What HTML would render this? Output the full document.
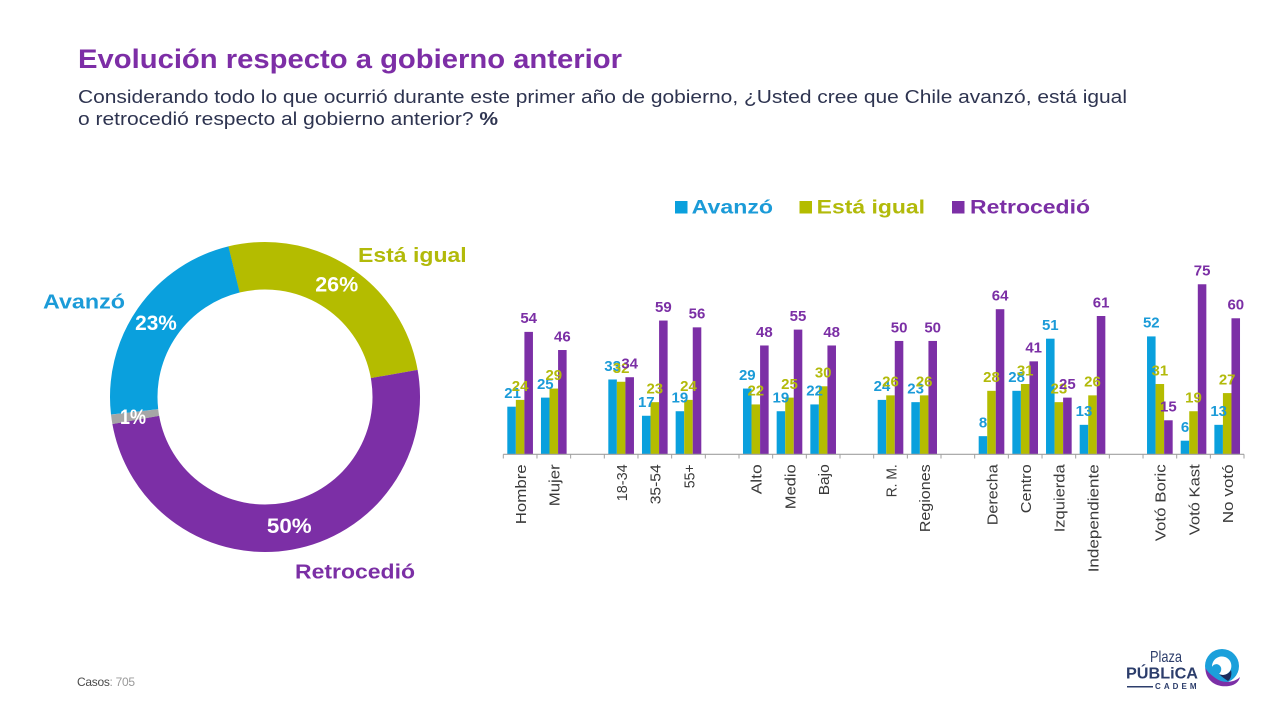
<!DOCTYPE html>
<html><head><meta charset="utf-8"><style>
html,body{margin:0;padding:0;background:#fff;}
svg{display:block;font-family:"Liberation Sans",Arial,sans-serif;}
.b{fill:#0aa0dd}.g{fill:#b4bc00}.p{fill:#7c2fa6}
.lb{fill:#1b9bd8;font-weight:bold;font-size:15px;text-anchor:middle}
.lg{fill:#b2ba0a;font-weight:bold;font-size:15px;text-anchor:middle}
.lp{fill:#7b2fa5;font-weight:bold;font-size:15px;text-anchor:middle}
.xl{fill:#3a3a3a;font-size:14.5px;text-anchor:end}
</style></head><body>
<svg width="1269" height="711" viewBox="0 0 1269 711" xmlns="http://www.w3.org/2000/svg">
<rect width="1269" height="711" fill="#fff"/>
<text x="78" y="68" font-size="27" font-weight="bold" fill="#7d2ea6" textLength="544" lengthAdjust="spacingAndGlyphs">Evolución respecto a gobierno anterior</text>
<text x="78" y="103" font-size="18.5" fill="#2e3450" textLength="1049" lengthAdjust="spacingAndGlyphs">Considerando todo lo que ocurrió durante este primer año de gobierno, ¿Usted cree que Chile avanzó, está igual</text>
<text x="78" y="125" font-size="18.5" fill="#2e3450" textLength="420" lengthAdjust="spacingAndGlyphs">o retrocedió respecto al gobierno anterior? <tspan font-weight="bold">%</tspan></text>

<!-- Legend -->
<rect x="675" y="201" width="12.5" height="12.5" class="b"/>
<text x="691.7" y="213.5" font-size="19.5" font-weight="bold" fill="#1b9bd8" textLength="81.3" lengthAdjust="spacingAndGlyphs">Avanzó</text>
<rect x="799.5" y="201" width="12.5" height="12.5" class="g"/>
<text x="816.7" y="213.5" font-size="19.5" font-weight="bold" fill="#b2ba0a" textLength="108.3" lengthAdjust="spacingAndGlyphs">Está igual</text>
<rect x="952" y="201" width="12.5" height="12.5" class="p"/>
<text x="970" y="213.5" font-size="19.5" font-weight="bold" fill="#7b2fa5" textLength="120" lengthAdjust="spacingAndGlyphs">Retrocedió</text>

<!-- Donut -->
<g fill="none" stroke-width="47.5">
<circle cx="265" cy="397" r="131.25" stroke="#b4bc00" stroke-dasharray="214.41 824.67" transform="rotate(-103.7 265 397)"/>
<circle cx="265" cy="397" r="131.25" stroke="#7c2fa6" stroke-dasharray="412.34 824.67" transform="rotate(-10.1 265 397)"/>
<circle cx="265" cy="397" r="131.25" stroke="#a6a6a6" stroke-dasharray="8.25 824.67" transform="rotate(169.9 265 397)"/>
<circle cx="265" cy="397" r="131.25" stroke="#0aa0dd" stroke-dasharray="189.67 824.67" transform="rotate(173.5 265 397)"/>
</g>
<g font-size="21.5" font-weight="bold" fill="#fff" text-anchor="middle">
<text x="156" y="330" textLength="41.7" lengthAdjust="spacingAndGlyphs">23%</text>
<text x="336.7" y="291.7" textLength="43" lengthAdjust="spacingAndGlyphs">26%</text>
<text x="289.3" y="533" textLength="44.7" lengthAdjust="spacingAndGlyphs">50%</text>
<text x="133" y="424" textLength="26" lengthAdjust="spacingAndGlyphs">1%</text>
</g>
<text x="358" y="262" font-size="20" font-weight="bold" fill="#b2ba0a" textLength="108.7" lengthAdjust="spacingAndGlyphs">Está igual</text>
<text x="43" y="308.3" font-size="20" font-weight="bold" fill="#1b9bd8" textLength="82" lengthAdjust="spacingAndGlyphs">Avanzó</text>
<text x="295" y="578.3" font-size="20" font-weight="bold" fill="#7b2fa5" textLength="120" lengthAdjust="spacingAndGlyphs">Retrocedió</text>

<!-- Bars -->
<g>
<rect class="b" x="507.3" y="406.69" width="8.55" height="47.61"/>
<rect class="g" x="515.85" y="399.89" width="8.55" height="54.41"/>
<rect class="p" x="524.4" y="331.88" width="8.55" height="122.42"/>
<rect class="b" x="540.97" y="397.62" width="8.55" height="56.68"/>
<rect class="g" x="549.52" y="388.56" width="8.55" height="65.74"/>
<rect class="p" x="558.07" y="350.02" width="8.55" height="104.28"/>
<rect class="b" x="608.31" y="379.49" width="8.55" height="74.81"/>
<rect class="g" x="616.86" y="381.76" width="8.55" height="72.54"/>
<rect class="p" x="625.41" y="377.22" width="8.55" height="77.08"/>
<rect class="b" x="641.98" y="415.76" width="8.55" height="38.54"/>
<rect class="g" x="650.53" y="402.16" width="8.55" height="52.14"/>
<rect class="p" x="659.08" y="320.55" width="8.55" height="133.75"/>
<rect class="b" x="675.65" y="411.23" width="8.55" height="43.07"/>
<rect class="g" x="684.2" y="399.89" width="8.55" height="54.41"/>
<rect class="p" x="692.75" y="327.35" width="8.55" height="126.95"/>
<rect class="b" x="742.99" y="388.56" width="8.55" height="65.74"/>
<rect class="g" x="751.54" y="404.43" width="8.55" height="49.87"/>
<rect class="p" x="760.09" y="345.48" width="8.55" height="108.82"/>
<rect class="b" x="776.66" y="411.23" width="8.55" height="43.07"/>
<rect class="g" x="785.21" y="397.62" width="8.55" height="56.68"/>
<rect class="p" x="793.76" y="329.61" width="8.55" height="124.69"/>
<rect class="b" x="810.33" y="404.43" width="8.55" height="49.87"/>
<rect class="g" x="818.88" y="386.29" width="8.55" height="68.01"/>
<rect class="p" x="827.43" y="345.48" width="8.55" height="108.82"/>
<rect class="b" x="877.67" y="399.89" width="8.55" height="54.41"/>
<rect class="g" x="886.22" y="395.36" width="8.55" height="58.94"/>
<rect class="p" x="894.77" y="340.95" width="8.55" height="113.35"/>
<rect class="b" x="911.34" y="402.16" width="8.55" height="52.14"/>
<rect class="g" x="919.89" y="395.36" width="8.55" height="58.94"/>
<rect class="p" x="928.44" y="340.95" width="8.55" height="113.35"/>
<rect class="b" x="978.68" y="436.16" width="8.55" height="18.14"/>
<rect class="g" x="987.23" y="390.82" width="8.55" height="63.48"/>
<rect class="p" x="995.78" y="309.21" width="8.55" height="145.09"/>
<rect class="b" x="1012.35" y="390.82" width="8.55" height="63.48"/>
<rect class="g" x="1020.9" y="384.02" width="8.55" height="70.28"/>
<rect class="p" x="1029.45" y="361.35" width="8.55" height="92.95"/>
<rect class="b" x="1046.02" y="338.68" width="8.55" height="115.62"/>
<rect class="g" x="1054.57" y="402.16" width="8.55" height="52.14"/>
<rect class="p" x="1063.12" y="397.62" width="8.55" height="56.68"/>
<rect class="b" x="1079.69" y="424.83" width="8.55" height="29.47"/>
<rect class="g" x="1088.24" y="395.36" width="8.55" height="58.94"/>
<rect class="p" x="1096.79" y="316.01" width="8.55" height="138.29"/>
<rect class="b" x="1147.03" y="336.42" width="8.55" height="117.88"/>
<rect class="g" x="1155.58" y="384.02" width="8.55" height="70.28"/>
<rect class="p" x="1164.13" y="420.29" width="8.55" height="34.01"/>
<rect class="b" x="1180.7" y="440.7" width="8.55" height="13.6"/>
<rect class="g" x="1189.25" y="411.23" width="8.55" height="43.07"/>
<rect class="p" x="1197.8" y="284.27" width="8.55" height="170.03"/>
<rect class="b" x="1214.37" y="424.83" width="8.55" height="29.47"/>
<rect class="g" x="1222.92" y="393.09" width="8.55" height="61.21"/>
<rect class="p" x="1231.47" y="318.28" width="8.55" height="136.02"/>
</g>

<!-- Value labels -->
<g>
<text class="lb" x="512.6" y="398">21</text><text class="lg" x="520.1" y="391.2">24</text><text class="lp" x="528.7" y="323.2">54</text>
<text class="lb" x="545.3" y="388.9">25</text><text class="lg" x="553.8" y="379.9">29</text><text class="lp" x="562.4" y="341.3">46</text>
<text class="lb" x="612.6" y="370.8">33</text><text class="lg" x="621.1" y="373.1">32</text><text class="lp" x="629.7" y="368.5">34</text>
<text class="lb" x="646.3" y="407.1">17</text><text class="lg" x="654.8" y="393.5">23</text><text class="lp" x="663.4" y="311.9">59</text>
<text class="lb" x="679.9" y="402.5">19</text><text class="lg" x="688.5" y="391.2">24</text><text class="lp" x="697" y="318.7">56</text>
<text class="lb" x="747.3" y="379.9">29</text><text class="lg" x="755.8" y="395.7">22</text><text class="lp" x="764.4" y="336.8">48</text>
<text class="lb" x="780.9" y="402.5">19</text><text class="lg" x="789.5" y="388.9">25</text><text class="lp" x="798" y="320.9">55</text>
<text class="lb" x="814.6" y="395.7">22</text><text class="lg" x="823.2" y="377.6">30</text><text class="lp" x="831.7" y="336.8">48</text>
<text class="lb" x="882" y="391.2">24</text><text class="lg" x="890.5" y="386.7">26</text><text class="lp" x="899.1" y="332.3">50</text>
<text class="lb" x="915.6" y="393.5">23</text><text class="lg" x="924.2" y="386.7">26</text><text class="lp" x="932.7" y="332.3">50</text>
<text class="lb" x="983" y="427.5">8</text><text class="lg" x="991.5" y="382.1">28</text><text class="lp" x="1000.1" y="300.5">64</text>
<text class="lb" x="1016.6" y="382.1">28</text><text class="lg" x="1025.2" y="375.3">31</text><text class="lp" x="1033.7" y="352.7">41</text>
<text class="lb" x="1050.3" y="330">51</text><text class="lg" x="1058.9" y="393.5">23</text><text class="lp" x="1067.4" y="388.9">25</text>
<text class="lb" x="1084" y="416.1">13</text><text class="lg" x="1092.5" y="386.7">26</text><text class="lp" x="1101.1" y="307.3">61</text>
<text class="lb" x="1151.3" y="327.7">52</text><text class="lg" x="1159.9" y="375.3">31</text><text class="lp" x="1168.4" y="411.6">15</text>
<text class="lb" x="1185" y="432">6</text><text class="lg" x="1193.5" y="402.5">19</text><text class="lp" x="1202.1" y="275.6">75</text>
<text class="lb" x="1218.7" y="416.1">13</text><text class="lg" x="1227.2" y="384.4">27</text><text class="lp" x="1235.8" y="309.6">60</text>
</g>

<!-- Axis -->
<line x1="503.3" y1="454.3" x2="1244" y2="454.3" stroke="#a0a0a0" stroke-width="1.2"/>
<g stroke="#a0a0a0" stroke-width="1">
<line x1="503.3" y1="454.3" x2="503.3" y2="458.5"/><line x1="536.97" y1="454.3" x2="536.97" y2="458.5"/>
<line x1="570.64" y1="454.3" x2="570.64" y2="458.5"/><line x1="604.31" y1="454.3" x2="604.31" y2="458.5"/>
<line x1="637.98" y1="454.3" x2="637.98" y2="458.5"/><line x1="671.65" y1="454.3" x2="671.65" y2="458.5"/>
<line x1="705.32" y1="454.3" x2="705.32" y2="458.5"/><line x1="738.99" y1="454.3" x2="738.99" y2="458.5"/>
<line x1="772.66" y1="454.3" x2="772.66" y2="458.5"/><line x1="806.33" y1="454.3" x2="806.33" y2="458.5"/>
<line x1="840" y1="454.3" x2="840" y2="458.5"/><line x1="873.67" y1="454.3" x2="873.67" y2="458.5"/>
<line x1="907.34" y1="454.3" x2="907.34" y2="458.5"/><line x1="941.01" y1="454.3" x2="941.01" y2="458.5"/>
<line x1="974.68" y1="454.3" x2="974.68" y2="458.5"/><line x1="1008.35" y1="454.3" x2="1008.35" y2="458.5"/>
<line x1="1042.02" y1="454.3" x2="1042.02" y2="458.5"/><line x1="1075.69" y1="454.3" x2="1075.69" y2="458.5"/>
<line x1="1109.36" y1="454.3" x2="1109.36" y2="458.5"/><line x1="1143.03" y1="454.3" x2="1143.03" y2="458.5"/>
<line x1="1176.7" y1="454.3" x2="1176.7" y2="458.5"/><line x1="1210.37" y1="454.3" x2="1210.37" y2="458.5"/>
<line x1="1244" y1="454.3" x2="1244" y2="458.5"/>
</g>

<!-- X labels -->
<g>
<text class="xl" transform="translate(525.9 464.3) rotate(-90)" textLength="60" lengthAdjust="spacingAndGlyphs">Hombre</text>
<text class="xl" transform="translate(559.6 464.3) rotate(-90)" textLength="42" lengthAdjust="spacingAndGlyphs">Mujer</text>
<text class="xl" transform="translate(626.9 464.3) rotate(-90)" textLength="37" lengthAdjust="spacingAndGlyphs">18-34</text>
<text class="xl" transform="translate(660.6 464.3) rotate(-90)" textLength="40" lengthAdjust="spacingAndGlyphs">35-54</text>
<text class="xl" transform="translate(694.3 464.3) rotate(-90)" textLength="24" lengthAdjust="spacingAndGlyphs">55+</text>
<text class="xl" transform="translate(761.6 464.3) rotate(-90)" textLength="30" lengthAdjust="spacingAndGlyphs">Alto</text>
<text class="xl" transform="translate(795.3 464.3) rotate(-90)" textLength="45" lengthAdjust="spacingAndGlyphs">Medio</text>
<text class="xl" transform="translate(829 464.3) rotate(-90)" textLength="31" lengthAdjust="spacingAndGlyphs">Bajo</text>
<text class="xl" transform="translate(896.3 464.3) rotate(-90)" textLength="33" lengthAdjust="spacingAndGlyphs">R. M.</text>
<text class="xl" transform="translate(930 464.3) rotate(-90)" textLength="68" lengthAdjust="spacingAndGlyphs">Regiones</text>
<text class="xl" transform="translate(997.3 464.3) rotate(-90)" textLength="61" lengthAdjust="spacingAndGlyphs">Derecha</text>
<text class="xl" transform="translate(1031 464.3) rotate(-90)" textLength="49" lengthAdjust="spacingAndGlyphs">Centro</text>
<text class="xl" transform="translate(1064.7 464.3) rotate(-90)" textLength="68" lengthAdjust="spacingAndGlyphs">Izquierda</text>
<text class="xl" transform="translate(1098.3 464.3) rotate(-90)" textLength="108" lengthAdjust="spacingAndGlyphs">Independiente</text>
<text class="xl" transform="translate(1165.7 464.3) rotate(-90)" textLength="77" lengthAdjust="spacingAndGlyphs">Votó Boric</text>
<text class="xl" transform="translate(1199.3 464.3) rotate(-90)" textLength="71" lengthAdjust="spacingAndGlyphs">Votó Kast</text>
<text class="xl" transform="translate(1233 464.3) rotate(-90)" textLength="59" lengthAdjust="spacingAndGlyphs">No votó</text>
</g>

<!-- Footer -->
<text x="77" y="686" font-size="12" letter-spacing="-0.3"><tspan fill="#4a4a4a">Casos</tspan><tspan fill="#9a9a9a">: 705</tspan></text>

<!-- Logo -->
<text x="1150" y="662" font-size="16" fill="#2c3d6b" textLength="32" lengthAdjust="spacingAndGlyphs">Plaza</text>
<text x="1126" y="678.3" font-size="16" font-weight="bold" fill="#2c3d6b" textLength="72" lengthAdjust="spacingAndGlyphs">PÚBLiCA</text>
<line x1="1127" y1="686.7" x2="1153" y2="686.7" stroke="#2c3d6b" stroke-width="1.5"/>
<text x="1155" y="689" font-size="8" font-weight="bold" fill="#2c3d6b" textLength="41.5" lengthAdjust="spacing">CADEM</text>
<g>
<circle cx="1222" cy="666" r="17" fill="#1ba0db"/>
<path d="M1205.5 668 C1205 680 1216 688 1229 686 C1236 685 1239 681 1240 677 C1234 683 1222 684 1214 677 C1210 674 1207 671 1205.5 668 Z" fill="#7c2fa6"/>
<path d="M1212 667 C1212 659 1219 655 1225 657 C1231 659 1233 666 1230 671 C1227 675 1223 676 1219 674 C1222 671 1222 667 1219 665 C1216 663 1213 665 1212 667 Z" fill="#fff"/>
<path d="M1219 674 C1223 676 1228 675 1231 670 C1232 674 1231 679 1228 681 C1225 679 1222 677 1219 674 Z" fill="#1f2c5c"/>
</g>
</svg>
</body></html>
